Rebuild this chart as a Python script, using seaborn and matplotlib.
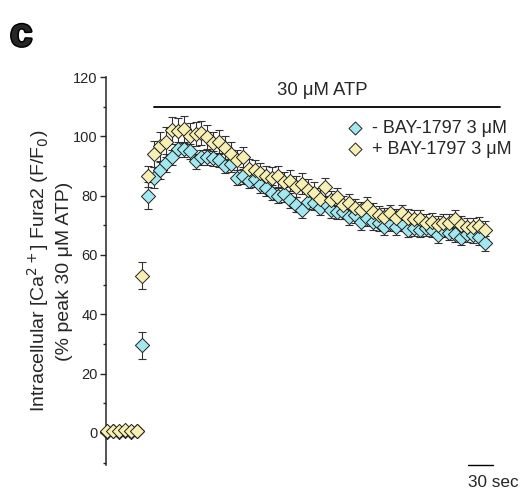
import numpy as np
import pandas as pd
import matplotlib
matplotlib.use("Agg")
import matplotlib.pyplot as plt
import matplotlib.patheffects as pe
import seaborn as sns

# sampling interval of the recording (sec per frame)
FRAME_SEC = 7

ctrl_vals = [0.2, 0.5, 0.3, 0.6, 0.4, 0.5, 29.5,
             80, 86, 88.5, 91, 93, 95.6, 95.6, 95, 91.6, 93, 93, 92.6, 92, 90, 90.6,
             86, 86.5, 85, 85.5, 83.5, 82.5, 81, 80, 80.5, 78.5, 77, 75, 78, 77.5, 76,
             77.5, 75, 74.5, 74.5, 72.7, 73.4, 71, 72.4, 71, 70.7, 69.4, 70.7, 69.4,
             70.7, 68.4, 69, 68.4, 69, 68.4, 66.7, 68.4, 67.4, 67, 65.7, 67, 66.7, 66, 64]
ctrl_err = [0.8, 0.8, 0.8, 0.8, 0.8, 0.8, 4.5,
            4.5, 3.5, 3, 3, 2.5, 2.5, 2.5, 2.5, 2.5, 2.5, 2.5, 2.5, 2.5, 2.5, 2.5,
            2.5, 2.5, 2.5, 2.5, 2.5, 2.5, 2.5, 2.5, 2.5, 2.5, 2.5, 2.5, 2.5, 2.5, 2.5,
            2.5, 2.5, 2.5, 2.5, 2.5, 2.5, 2.5, 2.5, 2.5, 2.5, 2.5, 2.5, 2.5,
            2.5, 2.5, 2.5, 2.5, 2.5, 2.5, 2.5, 2.5, 2.5, 2.5, 2.5, 2.5, 2.5, 2.5, 2.5]
bay_vals = [0.6, 0.8, 0.5, 0.9, 0.7, 0.8, 53,
            86.5, 94, 96.6, 98, 102, 101.7, 102.4, 100, 100.7, 101, 99.7, 97.6, 98, 96, 94,
            92, 93, 89, 88.5, 87.5, 86.5, 86, 86.5, 84.5, 85, 83, 84, 82, 81, 79,
            83, 78.5, 79.5, 77, 77.5, 76, 75, 76.4, 74.4, 73.4, 72.7, 74, 72.4,
            74, 72.4, 72, 72, 70.7, 71, 70, 70.7, 70.7, 72, 70, 69.4, 69.4, 69.7, 68.4]
bay_err = [0.8, 0.8, 0.8, 0.8, 0.8, 0.8, 4.5,
           3.5, 4.5, 5, 5, 4.5, 4.5, 4.5, 4.5, 4, 4, 4, 4, 4, 4, 4,
           3.5, 3.5, 3.5, 3.5, 3.5, 3.5, 3.5, 3.5, 3.5, 3.5, 3.5, 3.5, 3.5, 3.5, 3.5,
           3, 3, 3, 3, 3, 3, 3, 3, 3, 3, 3, 3, 3,
           3, 3, 3, 3, 3, 3, 3, 3, 3, 3, 3, 3, 3, 3, 3]

labels = ["- BAY-1797 3 \u03bcM", "+ BAY-1797 3 \u03bcM"]
colors = {labels[0]: "#A2E8F0", labels[1]: "#F8F0B2"}


def main():
    t = np.arange(len(ctrl_vals)) * FRAME_SEC
    rows = []
    for lab, vals, errs in [(labels[0], ctrl_vals, ctrl_err), (labels[1], bay_vals, bay_err)]:
        for ti, v, e in zip(t, vals, errs):
            rows += [[ti, v, e, lab]]
    df = pd.DataFrame(rows, columns=["Time", "Value", "SEM", "Group"])

    sns.set_style("ticks")
    plt.rcParams["font.family"] = ["Liberation Sans", "DejaVu Sans"]

    fig = plt.figure(figsize=(5.23, 4.93), dpi=100)
    ax = fig.add_axes([106 / 523, 28 / 493, 394 / 523, 388 / 493])

    for lab in labels:
        sub = df[df["Group"] == lab]
        ax.errorbar(sub["Time"], sub["Value"], yerr=sub["SEM"], fmt="none",
                    ecolor="#333333", elinewidth=0.8, capsize=3, capthick=0.8, zorder=2)
        sns.scatterplot(ax=ax, data=sub, x="Time", y="Value", marker="D", s=52,
                        color=colors[lab], edgecolor="#222222", linewidth=0.7,
                        label=lab, zorder=3, clip_on=False)

    ax.set_xlim(-1.2, 466)
    ax.set_ylim(-10.8, 120)
    ax.set_yticks(range(0, 121, 20))
    ax.set_yticks(range(-10, 121, 10), minor=True)
    ax.tick_params(axis="y", which="major", length=4, width=1, labelsize=10.5, pad=2)
    ax.tick_params(axis="y", which="minor", length=2.5, width=1)
    ax.set_xticks([])
    for s in ["top", "right", "bottom"]:
        ax.spines[s].set_visible(False)
    ax.spines["left"].set_linewidth(1.1)
    ax.set_xlabel("")
    ax.set_ylabel("Intracellular [Ca$^{2+}$] Fura2 (F/F$_0$)\n(% peak 30 \u03bcM ATP)",
                  fontsize=14, labelpad=0, linespacing=1.4)

    # ATP application bar
    ax.plot([56, 466], [110, 110], color="black", lw=1.3, clip_on=False)
    ax.text(255, 112.6, "30 \u03bcM ATP", ha="center", va="bottom", fontsize=13.3)

    # time scale bar
    ax.plot([428, 458], [-10.8, -10.8], color="black", lw=1.0, clip_on=False)
    ax.text(428, -14.2, "30 sec", ha="left", va="top", fontsize=12.3)

    leg = ax.legend(loc="upper left", bbox_to_anchor=(0.604, 0.889), frameon=False,
                    fontsize=13, handletextpad=0.35, labelspacing=0.22,
                    borderaxespad=0, borderpad=0, handlelength=1.2)
    for h in leg.legend_handles:
        h.set_sizes([44])

    fig.text(10 / 523, 1 - 35 / 493, "c", fontsize=29, fontweight="bold", va="center",
             path_effects=[pe.withStroke(linewidth=2.2, foreground="black")])

    plt.savefig("out.png", dpi=100)


if __name__ == "__main__":
    main()
